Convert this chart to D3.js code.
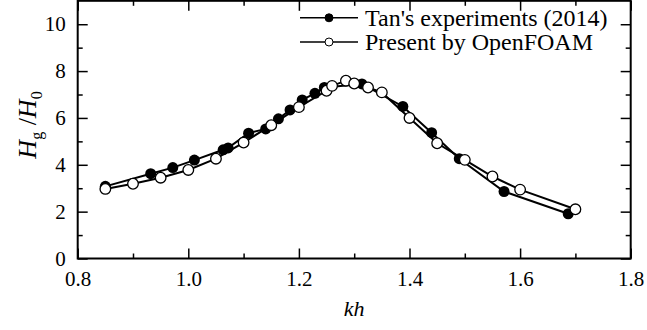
<!DOCTYPE html>
<html>
<head>
<meta charset="utf-8">
<script src="https://cdn.jsdelivr.net/npm/d3@7"></script>
<style>
  html, body { margin: 0; padding: 0; background: #fff; }
  svg { display: block; }
  svg text { font-family: 'Liberation Serif', 'Times New Roman', serif; }
</style>
</head>
<body>
<div id="chart"></div>
<script>
'use strict';

// Tan's experiments (2014)
const tanKh = [0.850, 0.932, 0.972, 1.011, 1.063, 1.072, 1.109, 1.140, 1.163, 1.184, 1.206,
  1.229, 1.246, 1.314, 1.388, 1.440, 1.490, 1.571, 1.687];
const tanH = [3.08, 3.62, 3.88, 4.20, 4.64, 4.72, 5.35, 5.53, 5.96, 6.34, 6.77,
  7.05, 7.30, 7.45, 6.49, 5.37, 4.26, 2.86, 1.91];

// Present by OpenFOAM
const foamKh = [0.85, 0.90, 0.95, 1.00, 1.05, 1.10, 1.15, 1.20, 1.25, 1.26, 1.285,
  1.30, 1.325, 1.35, 1.40, 1.45, 1.50, 1.55, 1.60, 1.70];
const foamH = [2.97, 3.19, 3.45, 3.78, 4.26, 4.95, 5.69, 6.46, 7.16, 7.37, 7.59,
  7.47, 7.30, 7.09, 6.00, 4.92, 4.21, 3.50, 2.94, 2.10];

const xTicks = [0.8, 1.0, 1.2, 1.4, 1.6, 1.8];
const xMinorTicks = [0.9, 1.1, 1.3, 1.5, 1.7];
const yTicks = [0, 2, 4, 6, 8, 10];
const yMinorTicks = [1, 3, 5, 7, 9];

const legendLabels = ["Tan's experiments (2014)", 'Present by OpenFOAM'];

const width = 647;
const height = 330;
const plotLeft = 77.7;
const plotRight = 630.7;
const plotTop = 0.8;
const plotBottom = 258.5;
const serif = "'Liberation Serif', 'Times New Roman', serif";

const x = d3.scaleLinear([0.8, 1.8], [plotLeft, plotRight]);
const y = d3.scaleLinear([0, 11], [plotBottom, plotTop]);

const svg = d3.select('#chart')
  .append('svg')
  .attr('width', width)
  .attr('height', height)
  .attr('viewBox', [0, 0, width, height]);

const tickFont = 21;

const styleAxis = (g) => {
  g.attr('font-family', serif).attr('font-size', tickFont);
  g.select('.domain').remove();
  g.selectAll('.tick line').attr('stroke', '#000').attr('stroke-width', 1.5);
  g.selectAll('.tick text').attr('fill', '#000').style('font-family', serif);
};

// bottom axis (major + minor)
svg.append('g')
  .attr('transform', `translate(0,${plotBottom})`)
  .call(d3.axisBottom(x).tickValues(xTicks).tickFormat(d3.format('.1f')).tickSize(-10).tickPadding(13))
  .call(styleAxis);
svg.append('g')
  .attr('transform', `translate(0,${plotBottom})`)
  .call(d3.axisBottom(x).tickValues(xMinorTicks).tickFormat('').tickSize(-5))
  .call(styleAxis);

// top axis
svg.append('g')
  .attr('transform', `translate(0,${plotTop})`)
  .call(d3.axisTop(x).tickValues(xTicks).tickFormat('').tickSize(-10))
  .call(styleAxis);
svg.append('g')
  .attr('transform', `translate(0,${plotTop})`)
  .call(d3.axisTop(x).tickValues(xMinorTicks).tickFormat('').tickSize(-5))
  .call(styleAxis);

// left axis
svg.append('g')
  .attr('transform', `translate(${plotLeft},0)`)
  .call(d3.axisLeft(y).tickValues(yTicks).tickFormat(d3.format('d')).tickSize(-10).tickPadding(12))
  .call(styleAxis);
svg.append('g')
  .attr('transform', `translate(${plotLeft},0)`)
  .call(d3.axisLeft(y).tickValues(yMinorTicks).tickFormat('').tickSize(-5))
  .call(styleAxis);

// right axis
svg.append('g')
  .attr('transform', `translate(${plotRight},0)`)
  .call(d3.axisRight(y).tickValues(yTicks).tickFormat('').tickSize(-10))
  .call(styleAxis);
svg.append('g')
  .attr('transform', `translate(${plotRight},0)`)
  .call(d3.axisRight(y).tickValues(yMinorTicks).tickFormat('').tickSize(-5))
  .call(styleAxis);

// frame
svg.append('rect')
  .attr('x', plotLeft)
  .attr('y', plotTop)
  .attr('width', plotRight - plotLeft)
  .attr('height', plotBottom - plotTop)
  .attr('fill', 'none')
  .attr('stroke', '#000')
  .attr('stroke-width', 2);

// axis titles
svg.append('text')
  .attr('x', (plotLeft + plotRight) / 2)
  .attr('y', 316)
  .attr('text-anchor', 'middle')
  .attr('font-size', 22)
  .attr('font-style', 'italic')
  .style('font-family', serif)
  .text('kh');

const yTitle = svg.append('text')
  .attr('transform', 'translate(36,125) rotate(-90)')
  .attr('text-anchor', 'middle')
  .attr('font-size', 26)
  .style('font-family', serif);
yTitle.append('tspan').attr('font-style', 'italic').text('H');
yTitle.append('tspan').attr('font-size', 16).attr('dy', 6).text('g');
yTitle.append('tspan').attr('dy', -6).text(' /');
yTitle.append('tspan').attr('font-style', 'italic').text('H');
yTitle.append('tspan').attr('font-size', 16).attr('dy', 6).text('0');

// series
const line = d3.line()
  .x((d) => x(d[0]))
  .y((d) => y(d[1]));

const tanData = tanKh.map((k, i) => [k, tanH[i]]);
const foamData = foamKh.map((k, i) => [k, foamH[i]]);

svg.append('path')
  .attr('d', line(tanData))
  .attr('fill', 'none')
  .attr('stroke', '#000')
  .attr('stroke-width', 2);

svg.append('g')
  .selectAll('circle')
  .data(tanData)
  .join('circle')
  .attr('cx', (d) => x(d[0]))
  .attr('cy', (d) => y(d[1]))
  .attr('r', 5.5)
  .attr('fill', '#000');

svg.append('path')
  .attr('d', line(foamData))
  .attr('fill', 'none')
  .attr('stroke', '#000')
  .attr('stroke-width', 2);

svg.append('g')
  .selectAll('circle')
  .data(foamData)
  .join('circle')
  .attr('cx', (d) => x(d[0]))
  .attr('cy', (d) => y(d[1]))
  .attr('r', 5.3)
  .attr('fill', '#fff')
  .attr('stroke', '#000')
  .attr('stroke-width', 1.3);

// legend
const legend = svg.append('g');
const legendRows = [17.8, 42];

legendLabels.forEach((label, i) => {
  const ly = legendRows[i];
  legend.append('line')
    .attr('x1', 300)
    .attr('x2', 358)
    .attr('y1', ly)
    .attr('y2', ly)
    .attr('stroke', '#000')
    .attr('stroke-width', 1.5);
  legend.append('circle')
    .attr('cx', 329)
    .attr('cy', ly)
    .attr('r', 4)
    .attr('fill', i === 0 ? '#000' : '#fff')
    .attr('stroke', '#000')
    .attr('stroke-width', 1);
  legend.append('text')
    .attr('x', 365)
    .attr('y', ly + 8)
    .attr('font-size', 24)
    .style('font-family', serif)
    .text(label);
});
</script>
</body>
</html>
